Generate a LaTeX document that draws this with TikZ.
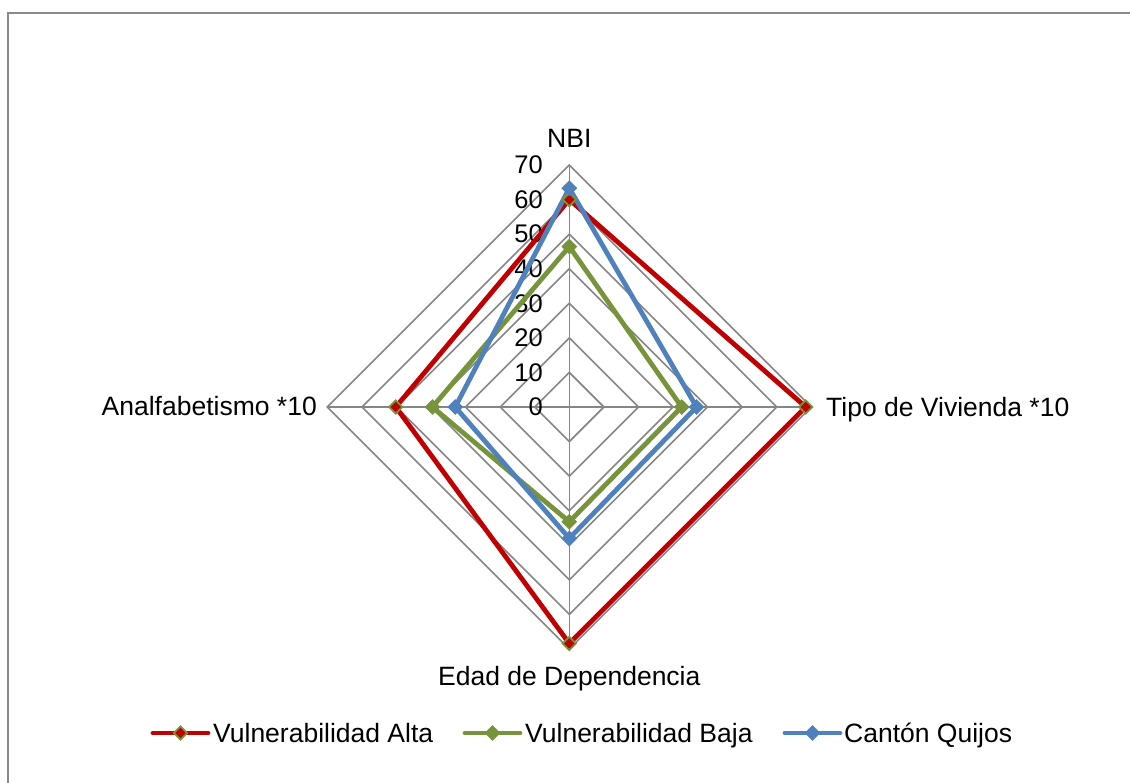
\documentclass[tikz,border=0pt]{standalone}
\usepackage{fontspec}
\setmainfont{Liberation Sans}
\usetikzlibrary{shapes.geometric}
\definecolor{gridgray}{HTML}{868686}
\definecolor{framegray}{HTML}{898989}
\definecolor{vred}{HTML}{C00000}
\definecolor{vgreen}{HTML}{77933C}
\definecolor{vblue}{HTML}{4F81BD}
\begin{document}
\begin{tikzpicture}[x=1pt,y=-1pt,
  font=\fontsize{26.5}{31}\selectfont,
  gridline/.style={draw=gridgray, line width=1.6pt},
  serie/.style={line width=4.8pt, line join=round, line cap=round},
  mk/.style={diamond, inner sep=0pt, minimum size=14pt, line width=1.8pt},
  ticklab/.style={anchor=east, inner sep=0pt, font=\fontsize{25.5}{30}\selectfont},
  axlab/.style={inner sep=0pt}]
\useasboundingbox (0,0) rectangle (1130,783);
\def\cx{569.3}
\def\cy{407}
\def\s{3.457}
% frame
\draw[framegray, line width=2pt] (7.5,790) -- (7.5,13.5) -- (1140,13.5);
% grid diamonds
\foreach \v in {10,20,...,70}{
  \draw[gridline] (\cx,\cy-\v*\s) -- (\cx+\v*\s,\cy) -- (\cx,\cy+\v*\s) -- (\cx-\v*\s,\cy) -- cycle;
}
% spokes
\coordinate (O) at (\cx,\cy);
\coordinate (aN) at (\cx,\cy-70*\s);
\coordinate (aT) at (\cx+70*\s,\cy);
\coordinate (aE) at (\cx,\cy+70*\s);
\coordinate (aA) at (\cx-70*\s,\cy);
\draw[gridline] (O) -- (aN);
\draw[gridline] (O) -- (aT);
\draw[gridline] (O) -- (aE);
\draw[gridline] (O) -- (aA);
% tick labels
\foreach \v in {0,10,...,70}{
  \node[ticklab] (t\v) at (543,\cy-\v*\s) {\v};
}
% axis labels
\node[axlab, anchor=base] (lN) at (\cx,148) {NBI};
\node[axlab, anchor=base west] (lT) at (826,417) {Tipo de Vivienda *10};
\node[axlab, anchor=base] (lE) at (\cx,685) {Edad de Dependencia};
\node[axlab, anchor=base east] (lA) at (317,416) {Analfabetismo *10};
% series coordinates
\coordinate (r1) at (\cx,\cy-60*\s);
\coordinate (r2) at (\cx+68.4*\s,\cy);
\coordinate (r3) at (\cx,\cy+68.4*\s);
\coordinate (r4) at (\cx-50.2*\s,\cy);
\coordinate (g1) at (\cx,\cy-46.4*\s);
\coordinate (g2) at (\cx+32.5*\s,\cy);
\coordinate (g3) at (\cx,\cy+33.2*\s);
\coordinate (g4) at (\cx-39.6*\s,\cy);
\coordinate (b1) at (\cx,\cy-63.3*\s);
\coordinate (b2) at (\cx+36.8*\s,\cy);
\coordinate (b3) at (\cx,\cy+38*\s);
\coordinate (b4) at (\cx-33*\s,\cy);
\draw[serie, vred] (r1) -- (r2) -- (r3) -- (r4) -- cycle;
\draw[serie, vgreen] (g1) -- (g2) -- (g3) -- (g4) -- cycle;
\draw[serie, vblue] (b1) -- (b2) -- (b3) -- (b4) -- cycle;
\foreach \p in {r1,r2,r3,r4}{\node[mk, fill=vred, draw=vgreen] (m\p) at (\p) {};}
\foreach \p in {g1,g2,g3,g4}{\node[mk, fill=vgreen, draw=vgreen] (m\p) at (\p) {};}
\foreach \p in {b1,b2,b3,b4}{\node[mk, fill=vblue, draw=vblue] (m\p) at (\p) {};}
% legend
\coordinate (lr1) at (153,733); \coordinate (lr2) at (208,733);
\coordinate (lg1) at (465,733); \coordinate (lg2) at (520,733);
\coordinate (lb1) at (785,733); \coordinate (lb2) at (840,733);
\draw[serie, vred] (lr1) -- (lr2);
\draw[serie, vgreen] (lg1) -- (lg2);
\draw[serie, vblue] (lb1) -- (lb2);
\node[mk, fill=vred, draw=vgreen] (lmr) at (180.5,733) {};
\node[mk, fill=vgreen, draw=vgreen] (lmg) at (492.5,733) {};
\node[mk, fill=vblue, draw=vblue] (lmb) at (812.5,733) {};
\node[axlab, anchor=base west] (ltr) at (213,742) {Vulnerabilidad Alta};
\node[axlab, anchor=base west] (ltg) at (525,742) {Vulnerabilidad Baja};
\node[axlab, anchor=base west] (ltb) at (844,742) {Cantón Quijos};
\end{tikzpicture}
\end{document}
